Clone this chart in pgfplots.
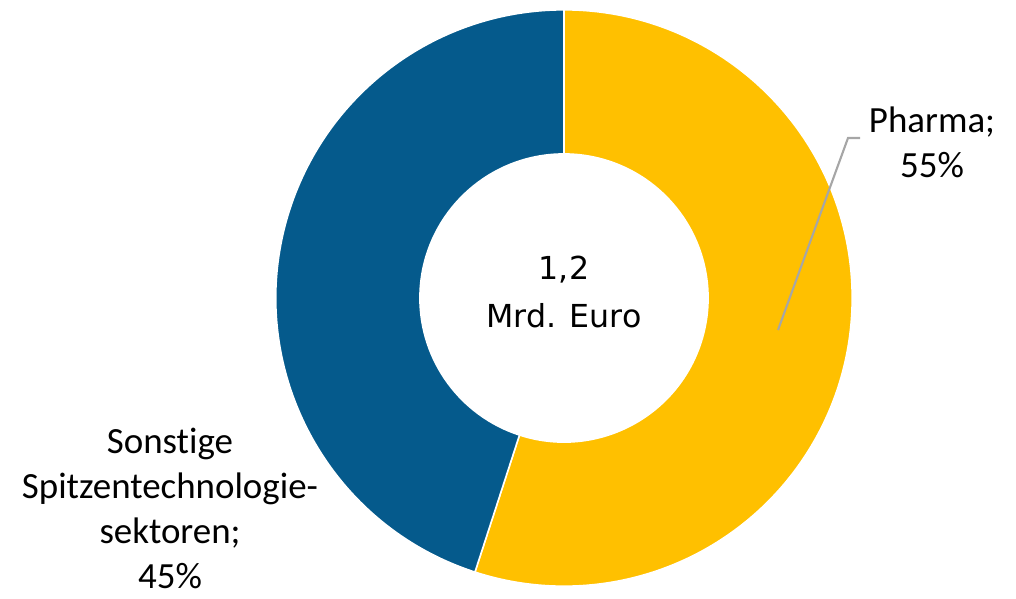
\documentclass[border=0pt]{standalone}
\usepackage{fontspec}
\setmainfont{Carlito}[Ligatures=NoCommon]
\newfontfamily\verd{DejaVu Sans}
\usepackage{pgfplots}
\usepackage{pgfplotstable}
\pgfplotsset{compat=1.18}
\definecolor{pharma}{RGB}{255,192,0}
\definecolor{sonst}{RGB}{5,90,140}
\definecolor{leader}{RGB}{166,166,166}

% share of each sector in percent
\pgfplotstableread{
sector share
Pharma 55
Sonstige 45
}\shares

\tikzset{lbl/.style={font=\fontsize{10.5}{12.8}\selectfont, align=center, inner sep=0pt}}

\begin{document}
\begin{tikzpicture}
\pgfplotstablegetelem{0}{share}\of\shares
\let\pharmashare\pgfplotsretval
\pgfmathsetmacro{\cut}{90-3.6*\pharmashare}
\begin{axis}[
  x=0.01cm, y=0.01cm,
  xmin=0, xmax=1016, ymin=0, ymax=590,
  hide axis, clip=false,
]
  \path (axis cs:0,0) rectangle (axis cs:1016,590);
  \coordinate (C) at (axis cs:564,292);
  % Pharma
  \filldraw[fill=pharma, draw=white, line width=0.45pt]
    ([shift={(90:2.88cm)}]C) arc[start angle=90, end angle=\cut, radius=2.88cm]
    -- ([shift={(\cut:1.44cm)}]C) arc[start angle=\cut, end angle=90, radius=1.44cm]
    -- cycle;
  % Sonstige
  \filldraw[fill=sonst, draw=white, line width=0.45pt]
    ([shift={(\cut:2.88cm)}]C) arc[start angle=\cut, end angle=-270, radius=2.88cm]
    -- ([shift={(-270:1.44cm)}]C) arc[start angle=-270, end angle=\cut, radius=1.44cm]
    -- cycle;
  % leader line
  \draw[leader, line width=0.6pt] (axis cs:860,452) -- (axis cs:848,452) -- (axis cs:778,260);
  % labels
  \node[lbl] at (axis cs:932,448) {Pharma;\\55\%};
  \node[lbl] at (axis cs:170,82) {Sonstige\\Spitzentechnologie-\\sektoren;\\45\%};
  \node[align=center, inner sep=0pt, font=\verd\fontsize{9}{13.6}\selectfont]
    at (axis cs:564,298) {1,2\\Mrd. Euro};
\end{axis}
\end{tikzpicture}
\end{document}
